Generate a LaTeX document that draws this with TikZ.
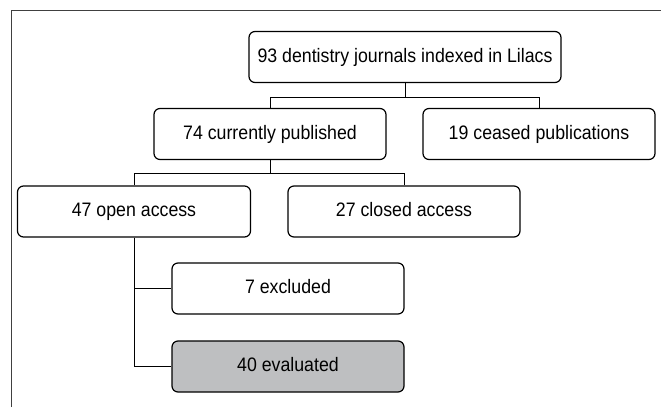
\documentclass[tikz,border=0pt]{standalone}
\usepackage{fontspec}
\setmainfont[FakeStretch=0.91]{Liberation Sans}
\definecolor{evalgray}{RGB}{190,191,193}
\tikzset{
  box/.style={draw, line width=1.2pt, rounded corners=6pt, minimum width=232pt,
    minimum height=51pt, inner sep=0pt, text height=14pt, text depth=4pt,
    font=\fontsize{19.5}{22}\selectfont},
  link/.style={line width=1pt}
}
\begin{document}
\begin{tikzpicture}[x=1pt, y=-1pt]
        \useasboundingbox (0,0) rectangle (661,407);
        \draw[line width=1pt, black!75] (11,407) -- (11,10) -- (661,10);
        \node[box, minimum width=312pt] (journals) at (405,57) {93 dentistry journals indexed in Lilacs};
        \node[box] (current) at (270,134) {74 currently published};
        \node[box] (ceased) at (539,134) {19 ceased publications};
        \node[box, minimum width=233pt] (open) at (134,211.5) {47 open access};
        \node[box] (closed) at (404,211.5) {27 closed access};
        \node[box] (excluded) at (288,288.5) {7 excluded};
        \node[box, fill=evalgray] (evaluated) at (288,366.5) {40 evaluated};
        \draw[link] (journals.south) -- ++(0,14) -| (current.north);
        \draw[link] (journals.south) ++(0,14) -| (ceased.north);
        \draw[link] (current.south) -- ++(0,13) -| (open.north);
        \draw[link] (current.south) ++(0,13) -| (closed.north);
        \draw[link] (open.south) |- (excluded.west);
        \draw[link] (open.south) |- (evaluated.west);
      \end{tikzpicture}
\end{document}
